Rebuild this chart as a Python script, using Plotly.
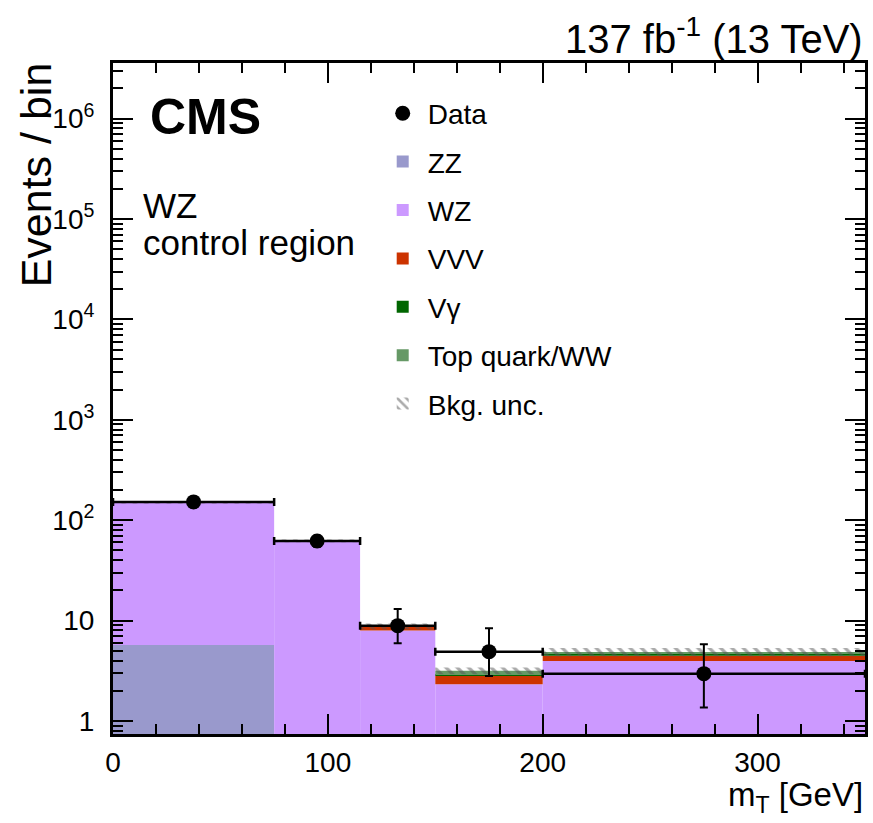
import numpy as np
import plotly.graph_objects as go

# ---- data ----
bin_edges = [0, 75, 115, 150, 200, 350]
zz = [5.7, 0.2, 0.05, 0.02, 0.05]
wz = [144.0, 61.5, 7.9, 2.3, 3.9]
vvv = [0.6, 0.4, 0.7, 0.5, 0.5]
vgamma = [0.1, 0.1, 0.05, 0.05, 0.28]
topww = [0.1, 0.1, 0.05, 0.29, 0.14]
bkg_unc = [4.0, 2.0, 0.6, 0.25, 0.45]
data_y = [152.0, 62.0, 8.9, 4.9, 2.96]
data_err_up = [12.5, 8.0, 4.1, 3.5, 2.86]
data_err_down = [12.3, 7.8, 2.95, 2.1, 1.6]

y_tickvals = [1, 10, 100, 1e3, 1e4, 1e5, 1e6]
y_ticktext = ["1", "10", "10<sup>2</sup>", "10<sup>3</sup>", "10<sup>4</sup>",
              "10<sup>5</sup>", "10<sup>6</sup>"]
x_tickvals = [0, 100, 200, 300]

FONT = "Liberation Sans, Arial, Helvetica, sans-serif"

edges = np.array(bin_edges, dtype=float)
centers = 0.5 * (edges[:-1] + edges[1:])
widths = edges[1:] - edges[:-1]

components = [
    ("ZZ", zz, "#9999cc"),
    ("WZ", wz, "#cc99ff"),
    ("VVV", vvv, "#cc3300"),
    ("V\u03b3", vgamma, "#006600"),
    ("Top quark/WW", topww, "#669966"),
]

fig = go.Figure()

cum = np.full(len(centers), 1e-3)
rank = 2
for name, vals, col in components:
    v = np.array(vals, dtype=float)
    fig.add_trace(go.Bar(
        x=centers, y=v, base=cum.copy(), width=widths, name=name,
        marker=dict(color=col, line=dict(width=0)),
        legendgroup=name, legendrank=rank,
    ))
    cum = cum + v
    rank += 1

unc = np.array(bkg_unc, dtype=float)
fig.add_trace(go.Bar(
    x=centers, y=2 * unc, base=cum - unc, width=widths, name="Bkg. unc.",
    marker=dict(color="rgba(0,0,0,0)", line=dict(width=0),
                pattern=dict(shape="\\", fgcolor="#555555", bgcolor="rgba(0,0,0,0)",
                             size=8, solidity=0.4)),
    legendgroup="unc", legendrank=rank,
))

fig.add_trace(go.Scatter(
    x=centers, y=data_y, mode="markers", name="Data",
    marker=dict(color="black", size=15, symbol="circle"),
    error_y=dict(type="data", symmetric=False, array=data_err_up,
                 arrayminus=data_err_down, color="black", thickness=2, width=4),
    error_x=dict(type="data", array=widths / 2, color="black", thickness=2.5, width=4),
    legendgroup="data", legendrank=1,
))

minor_y = [m * 10 ** k for k in range(-1, 7) for m in range(2, 10)]

fig.update_layout(
    width=873, height=823,
    margin=dict(l=113, r=5, t=63, b=89),
    paper_bgcolor="white", plot_bgcolor="white",
    barmode="overlay",
    font=dict(family=FONT, size=28, color="black"),
    showlegend=True,
    legend=dict(x=0.352, y=0.962, xanchor="left", yanchor="top",
                bgcolor="rgba(0,0,0,0)", font=dict(size=28),
                traceorder="grouped", tracegroupgap=9, itemwidth=40),
)

fig.update_xaxes(
    range=[0, 350], showgrid=False, zeroline=False,
    showline=True, linecolor="black", linewidth=3, mirror="ticks",
    ticks="inside", ticklen=20, tickwidth=1.5, tickcolor="black",
    tickvals=x_tickvals, ticklabelstandoff=1,
    tickfont=dict(size=28),
    minor=dict(ticks="inside", ticklen=10, tickwidth=1.5, tickcolor="black", dtick=20, showgrid=False),
)
fig.update_yaxes(
    type="log", range=[-0.13, 6.554], showgrid=False, zeroline=False,
    showline=True, linecolor="black", linewidth=3, mirror="ticks",
    ticks="inside", ticklen=20, tickwidth=1.5, tickcolor="black",
    tickvals=y_tickvals, ticktext=y_ticktext, ticklabelstandoff=10,
    tickfont=dict(size=28),
    minor=dict(ticks="inside", ticklen=10, tickwidth=1.5, tickcolor="black",
               tickvals=minor_y, showgrid=False),
)

fig.add_annotation(text="137 fb<sup>-1</sup> (13 TeV)", xref="paper", yref="paper",
                   x=1.0, y=1.040, xanchor="right", yanchor="middle",
                   showarrow=False, font=dict(size=40))
fig.add_annotation(text="<b>CMS</b>", xref="paper", yref="paper",
                   x=0.046, y=0.9195, xanchor="left", yanchor="middle",
                   showarrow=False, font=dict(size=50))
fig.add_annotation(text="WZ", xref="paper", yref="paper",
                   x=0.0377, y=0.788, xanchor="left", yanchor="middle",
                   showarrow=False, font=dict(size=35))
fig.add_annotation(text="control region", xref="paper", yref="paper",
                   x=0.0377, y=0.733, xanchor="left", yanchor="middle",
                   showarrow=False, font=dict(size=35))
fig.add_annotation(text="Events / bin", xref="paper", yref="paper",
                   x=-0.103, y=1.004, xanchor="center", yanchor="top", textangle=-90,
                   showarrow=False, font=dict(size=43))
fig.add_annotation(text="m<sub>T</sub> [GeV]", xref="paper", yref="paper",
                   x=1.0, y=-0.1285, xanchor="right", yanchor="bottom",
                   showarrow=False, font=dict(size=33))

fig.write_html("out.html")
